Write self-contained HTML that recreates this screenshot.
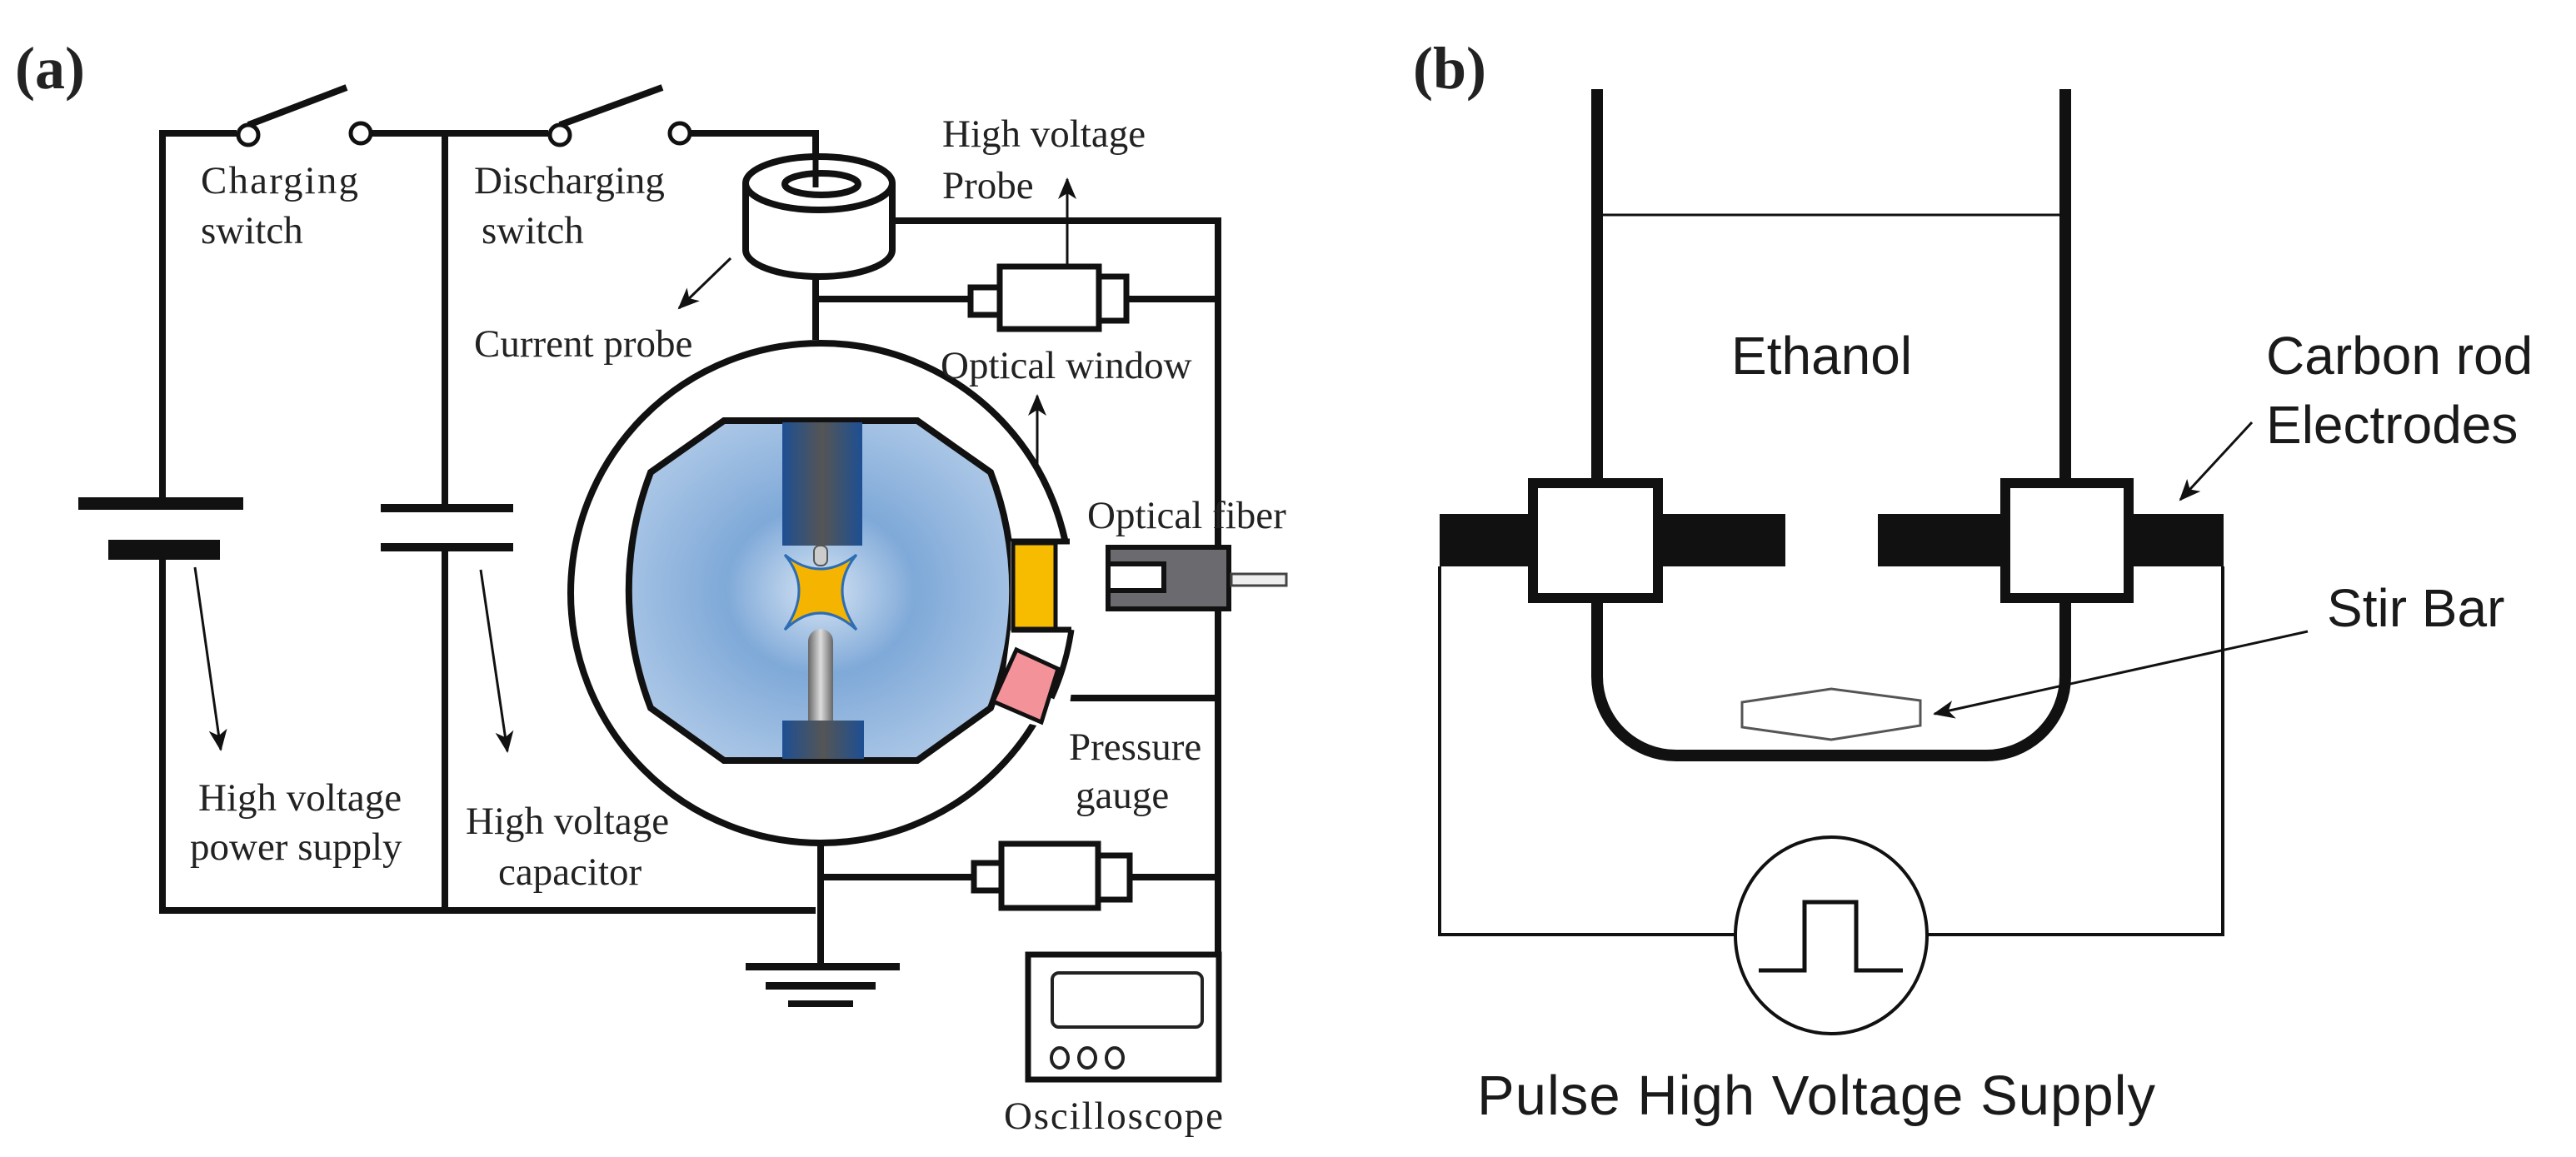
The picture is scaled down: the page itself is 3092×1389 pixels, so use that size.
<!DOCTYPE html>
<html><head><meta charset="utf-8"><style>
html,body{margin:0;padding:0;background:#fff;}
svg{display:block;}
.s{font-family:"Liberation Serif",serif;fill:#222;}
.a{font-family:"Liberation Sans",sans-serif;fill:#1a1a1a;}
</style></head><body>
<svg width="3092" height="1389" viewBox="0 0 3092 1389" xmlns="http://www.w3.org/2000/svg">
<defs>
<radialGradient id="bg" cx="50%" cy="50%" r="55%">
<stop offset="0" stop-color="#d6e4f4"/><stop offset="0.45" stop-color="#7fa9d8"/><stop offset="1" stop-color="#aac6e6"/>
</radialGradient>
<linearGradient id="el" x1="0" x2="1"><stop offset="0" stop-color="#1d4f93"/><stop offset="0.5" stop-color="#555"/><stop offset="1" stop-color="#1d4f93"/></linearGradient>
<linearGradient id="rod" x1="0" x2="1"><stop offset="0" stop-color="#666"/><stop offset="0.5" stop-color="#ddd"/><stop offset="1" stop-color="#666"/></linearGradient>
<marker id="ar" markerWidth="26" markerHeight="22" refX="24" refY="11" orient="auto" markerUnits="userSpaceOnUse" viewBox="0 0 26 22"><path d="M0,0 L26,11 L0,22 L7,11 z" fill="#111"/></marker>
</defs>

<!-- Panel (a) -->
<text x="18" y="106" class="s" font-size="72" font-weight="bold" fill="#111">(a)</text>
<g stroke="#111" stroke-width="8" fill="none">
<path d="M195,605 V160 H284"/>
<path d="M447,160 H658"/>
<path d="M534,160 V610"/>
<path d="M830,160 H979 V212"/>
<path d="M195,672 V1093 H979"/>
<path d="M534,657 V1093"/>
<path d="M1071,265 H1462 V1146"/>
<path d="M979,330 V408"/>
<path d="M979,359 H1165 M1352,359 H1462"/>
<path d="M985,1012 V1160"/>
<path d="M985,1053 H1169 M1356,1053 H1462"/>
<path d="M1262,838 H1462"/>
<path d="M298,150 L416,105 M672,150 L795,105"/>
</g>
<g stroke="#111" stroke-width="5" fill="#fff">
<circle cx="298" cy="162" r="12"/><circle cx="433" cy="160" r="12"/>
<circle cx="672" cy="162" r="12"/><circle cx="816" cy="160" r="12"/>
</g>
<rect x="94" y="597" width="198" height="15" fill="#111"/>
<rect x="130" y="648" width="134" height="24" fill="#111"/>
<rect x="457" y="605" width="159" height="10" fill="#111"/>
<rect x="457" y="652" width="159" height="10" fill="#111"/>
<g stroke="#111" stroke-width="3" marker-end="url(#ar)">
<line x1="234" y1="681" x2="265" y2="900"/>
<line x1="577" y1="684" x2="609" y2="902"/>
<line x1="877" y1="310" x2="815" y2="370"/>
<line x1="1281" y1="320" x2="1281" y2="215"/>
<line x1="1245" y1="645" x2="1245" y2="475"/>
</g>
<!-- toroid -->
<g stroke="#111" stroke-width="8" fill="#fff">
<path d="M895,220 V300 A88,32 0 0 0 1071,300 V220"/>
<ellipse cx="983" cy="220" rx="88" ry="32"/>
<ellipse cx="986" cy="221" rx="44" ry="13"/>
</g>
<line x1="979" y1="157" x2="979" y2="225" stroke="#111" stroke-width="7"/>
<!-- HV probe -->
<g stroke="#111" stroke-width="7" fill="#fff">
<rect x="1165" y="345" width="35" height="33"/>
<rect x="1319" y="332" width="33" height="53"/>
<rect x="1200" y="320" width="119" height="75"/>
<rect x="1169" y="1036" width="33" height="33"/>
<rect x="1318" y="1027" width="38" height="53"/>
<rect x="1202" y="1013" width="116" height="77"/>
</g>
<!-- chamber -->
<circle cx="985" cy="712" r="300" fill="#fff" stroke="#111" stroke-width="8"/>
<path d="M869,505 H1101 L1189,567 A395,395 0 0 1 1189,850 L1101,913 H869 L781,850 A395,395 0 0 1 781,567 Z" fill="url(#bg)" stroke="#111" stroke-width="8"/>
<rect x="939" y="507" width="96" height="148" fill="url(#el)"/>
<rect x="977" y="655" width="16" height="24" rx="7" fill="#ccc" stroke="#555" stroke-width="2"/>
<path d="M970,870 V770 a15,15 0 0 1 30,0 V870 Z" fill="url(#rod)"/>
<rect x="939" y="865" width="98" height="46" fill="url(#el)"/>
<path d="M942,666 Q984,700 1028,666 Q994,707 1028,756 Q984,716 942,756 Q976,707 942,666 Z" fill="#f5b400" stroke="#2d6db3" stroke-width="3"/>
<!-- window notch -->
<path d="M1213,650 H1292 V755 H1213 Z" fill="#fff"/>
<path d="M1213,755 L1295,755 L1280,880 L1200,860 Z" fill="#fff"/>
<g stroke="#111" stroke-width="7">
<line x1="1214" y1="650" x2="1284" y2="650"/>
<line x1="1214" y1="756" x2="1286" y2="756"/>
<path d="M1286,756 A300,300 0 0 1 1262,838" fill="none"/>
</g>
<rect x="1216" y="652" width="51" height="103" fill="#f7bb00" stroke="#111" stroke-width="5"/>
<polygon points="1220,780 1270,803 1250,867 1192,842" fill="#f4929a" stroke="#111" stroke-width="5"/>
<!-- optical fiber -->
<rect x="1330" y="657" width="145" height="74" fill="#6b6b6f" stroke="#111" stroke-width="6"/>
<rect x="1330" y="677" width="67" height="32" fill="#fff" stroke="#111" stroke-width="6"/>
<rect x="1478" y="689" width="66" height="14" fill="#eee" stroke="#444" stroke-width="3"/>
<!-- ground -->
<g fill="#111">
<rect x="895" y="1156" width="185" height="9"/>
<rect x="919" y="1179" width="132" height="9"/>
<rect x="946" y="1201" width="78" height="8"/>
</g>
<!-- oscilloscope -->
<rect x="1234" y="1146" width="229" height="150" fill="#fff" stroke="#111" stroke-width="7"/>
<rect x="1263" y="1168" width="180" height="65" rx="8" fill="#fff" stroke="#222" stroke-width="4"/>
<g fill="none" stroke="#222" stroke-width="4">
<ellipse cx="1272" cy="1270" rx="10" ry="12"/><ellipse cx="1305" cy="1270" rx="10" ry="12"/><ellipse cx="1338" cy="1270" rx="10" ry="12"/>
</g>
<!-- labels (a) -->
<g class="s" font-size="47">
<text x="241" y="232" textLength="189">Charging</text>
<text x="241" y="292">switch</text>
<text x="569" y="232">Discharging</text>
<text x="578" y="292">switch</text>
<text x="569" y="428">Current probe</text>
<text x="238" y="973">High voltage</text>
<text x="228" y="1032">power supply</text>
<text x="559" y="1001">High voltage</text>
<text x="598" y="1062">capacitor</text>
<text x="1131" y="176">High voltage</text>
<text x="1131" y="238">Probe</text>
<text x="1129" y="454">Optical window</text>
<text x="1305" y="634">Optical fiber</text>
<text x="1283" y="912">Pressure</text>
<text x="1291" y="970">gauge</text>
<text x="1205" y="1355" textLength="263">Oscilloscope</text>
</g>

<!-- Panel (b) -->
<text x="1696" y="106" class="s" font-size="72" font-weight="bold" fill="#111">(b)</text>
<g stroke="#111" fill="none">
<line x1="1918" y1="258" x2="2479" y2="258" stroke-width="3"/>
<path d="M1917,107 V580" stroke-width="14"/>
<path d="M2479,107 V580" stroke-width="14"/>
<path d="M1917,720 V812 A95,95 0 0 0 2012,907 H2384 A95,95 0 0 0 2479,812 V720" stroke-width="14"/>
<path d="M1728,680 V1122 H2083 M2314,1122 H2668 V680" stroke-width="4"/>
<ellipse cx="2198" cy="1123" rx="115" ry="118" stroke-width="4"/>
<path d="M2111,1165 H2166 V1083 H2228 V1165 H2284" stroke-width="5"/>
</g>
<rect x="1728" y="617" width="415" height="63" fill="#111"/>
<rect x="2254" y="617" width="415" height="63" fill="#111"/>
<rect x="1840" y="580" width="150" height="138" fill="#fff" stroke="#111" stroke-width="12"/>
<rect x="2407" y="580" width="148" height="138" fill="#fff" stroke="#111" stroke-width="12"/>
<polygon points="2091,843 2198,827 2305,841 2305,871 2198,888 2091,873" fill="#fff" stroke="#555" stroke-width="3"/>
<g stroke="#111" stroke-width="3" marker-end="url(#ar)">
<line x1="2770" y1="758" x2="2322" y2="857"/>
<line x1="2703" y1="507" x2="2617" y2="600"/>
</g>
<g class="a" font-size="64">
<text x="2078" y="449">Ethanol</text>
<text x="2720" y="449">Carbon rod</text>
<text x="2720" y="532">Electrodes</text>
<text x="2793" y="752">Stir Bar</text>
<text x="1773" y="1338" font-size="67" textLength="814">Pulse High Voltage Supply</text>
</g>
</svg>
</body></html>
